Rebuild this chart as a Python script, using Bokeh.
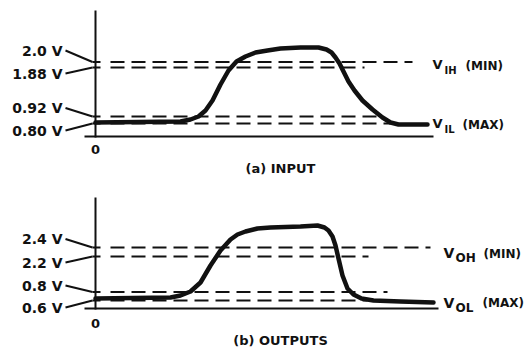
from bokeh.plotting import figure
from bokeh.layouts import column
from bokeh.models import Range1d
from bokeh.core.properties import value
from bokeh.embed import file_html
from bokeh.resources import INLINE

# ---------------- data (schematic units: time from 0, height above 0 V line) -------------
# (a) INPUT
a_time = [0, 85, 95, 103, 110, 117, 125, 133, 141, 150, 160, 172, 185, 205, 223, 231,
          236, 240, 244, 248, 253, 259, 267, 277, 287, 295, 303, 332]
a_level = [14, 15, 17, 20, 26, 36, 52, 66, 75, 80, 84, 86, 88, 89, 89, 87,
           84, 79, 73, 65, 55, 46, 36, 27, 19, 14, 12, 12]
a_ref_labels = ["2.0 V", "1.88 V", "0.92 V", "0.80 V"]
a_ref_height = [74.5, 69, 20, 13]
a_ref_end = [317, 269, 285, 295]
a_names = [("V", "IH", "(MIN)"), ("V", "IL", "(MAX)")]
a_caption = "(a) INPUT"

# (b) OUTPUTS
b_time = [0, 75, 85, 95, 105, 115, 125, 135, 142, 150, 162, 175, 205, 222, 229, 233,
          237, 240, 243, 247, 252, 258, 266, 278, 305, 338]
b_level = [10, 11, 13, 17, 26, 43, 58, 69, 74, 77, 80, 81, 82, 83, 81, 78,
           72, 63, 50, 33, 20, 14, 10, 8, 7, 6]
b_ref_labels = ["2.4 V", "2.2 V", "0.8 V", "0.6 V"]
b_ref_height = [61, 52, 16.5, 8]
b_ref_end = [335, 273, 292, 272]
b_names = [("V", "OH", "(MIN)"), ("V", "OL", "(MAX)")]
b_caption = "(b) OUTPUTS"

# ---------------- layout / style -------------------------------------------------------
FONT = value("DejaVu Sans")
INK = "#111111"


def txt(p, x, y, s, size, align="left"):
    p.text([x], [y], text=[s], text_font=FONT, text_font_style="bold",
           text_font_size=size, text_align=align, text_baseline="middle",
           text_color=INK)


def panel(time, level, ref_labels, ref_height, ref_end, names, caption,
          height, yr, axis_top, base_end, label_y, name_pos, name_sizes, zero_y, cap_y):
    p = figure(width=530, height=height, output_backend="svg", toolbar_location=None,
               x_range=Range1d(-95, 435), y_range=Range1d(*yr),
               x_axis_location=None, y_axis_location=None, min_border=0)
    p.grid.visible = False
    p.outline_line_color = None
    p.background_fill_color = "white"
    p.border_fill_color = "white"

    # axes drawn as lines
    p.line([0, 0], [-1, axis_top], line_color=INK, line_width=2)
    p.line([-11, base_end], [0, 0], line_color=INK, line_width=2)

    # reference levels: dashed lines, ticks, leaders, labels
    for lab, h, end, ly in zip(ref_labels, ref_height, ref_end, label_y):
        p.line([15, end], [h, h], line_color=INK, line_width=2, line_dash="14 7")
        p.line([-3, 5], [h, h], line_color=INK, line_width=2)
        p.line([-30, -3], [ly, h], line_color=INK, line_width=2)
        txt(p, -33, ly, lab, "14px", "right")

    # waveform
    p.line(time, level, line_color=INK, line_width=4.5, line_join="round", line_cap="round")

    # level names with subscripts
    vs, ss, ts = name_sizes
    for (v, sub, tag), (vx, vy, sx, sy, tx, ty) in zip(names, name_pos):
        txt(p, vx, vy, v, vs)
        txt(p, sx, sy, sub, ss)
        txt(p, tx, ty, tag, ts)

    txt(p, 0, zero_y, "0", "13px", "center")
    txt(p, 185, cap_y, caption, "13px", "center")
    return p


pa = panel(a_time, a_level, a_ref_labels, a_ref_height, a_ref_end, a_names, a_caption,
           height=175, yr=(-39, 136), axis_top=126, base_end=338,
           label_y=[86, 63, 28.5, 6],
           name_pos=[(337, 72, 349, 66, 370, 71), (337, 13.5, 349, 7, 367, 12)],
           name_sizes=("13px", "10px", "12px"),
           zero_y=-13, cap_y=-32)
pb = panel(b_time, b_level, b_ref_labels, b_ref_height, b_ref_end, b_names, b_caption,
           height=172, yr=(-39, 133), axis_top=111, base_end=343,
           label_y=[69.5, 46, 23, 1],
           name_pos=[(348, 56, 360, 50.5, 388, 55), (348, 6, 360, 0.5, 387, 5.5)],
           name_sizes=("14px", "12px", "12px"),
           zero_y=-15, cap_y=-31.5)

layout = column(pa, pb, spacing=0)
open("out.html", "w").write(file_html(layout, INLINE))
